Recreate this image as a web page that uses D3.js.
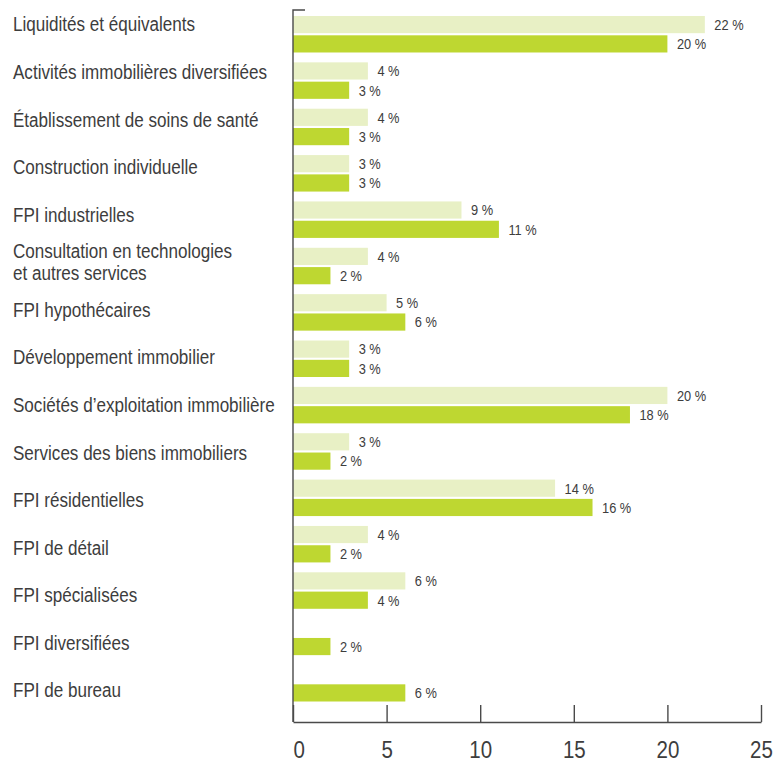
<!DOCTYPE html>
<html lang="fr">
<head>
  <meta charset="UTF-8">
  <title>Répartition sectorielle</title>
  <script src="https://d3js.org/d3.v7.min.js"></script>
  <style>
    body { margin: 0; background: #fff; }
    text {
      font-family: "Liberation Sans", Arial, sans-serif;
      fill: #3d3d3d;
    }
    .cat { font-size: 19.5px; }
    .val { font-size: 15px; }
    .tick text { font-size: 24px; }
  </style>
</head>
<body>
  <svg width="783" height="762"></svg>

  <script>
    // Data
    const categories = [
      "Liquidités et équivalents",
      "Activités immobilières diversifiées",
      "Établissement de soins de santé",
      "Construction individuelle",
      "FPI industrielles",
      "Consultation en technologies\net autres services",
      "FPI hypothécaires",
      "Développement immobilier",
      "Sociétés d’exploitation immobilière",
      "Services des biens immobiliers",
      "FPI résidentielles",
      "FPI de détail",
      "FPI spécialisées",
      "FPI diversifiées",
      "FPI de bureau"
    ];
    const seriesKeys = ["prev", "curr"];
    const prevValues = [22, 4, 4, 3, 9, 4, 5, 3, 20, 3, 14, 4, 6, null, null];
    const currValues = [20, 3, 3, 3, 11, 2, 6, 3, 18, 2, 16, 2, 4, 2, 6];
    const xTicks = [0, 5, 10, 15, 20, 25];

    const colors = { prev: "#e8f0c5", curr: "#bed731" };
    const narrow = 0.855;    // squeeze to mimic the condensed face
    const narrowCat = 0.875;

    // Layout
    const x0 = 293, x1 = 761, axisTop = 10, axisBottom = 722;

    const svg = d3.select("svg");

    const x = d3.scaleLinear().domain([0, 25]).range([x0, x1]);

    const y = d3.scaleBand()
      .domain(categories)
      .range([16, 701.5])
      .paddingInner(0.213)
      .paddingOuter(0);

    const ySub = d3.scaleBand()
      .domain(seriesKeys)
      .range([0, y.bandwidth()])
      .paddingInner(0.11);

    // labels sit on their own, slightly wider spacing
    const yLabel = d3.scalePoint()
      .domain(categories)
      .range([24, 690]);

    const rows = categories.map((c, i) => ({
      cat: c,
      prev: prevValues[i],
      curr: currValues[i]
    }));

    // Bars
    const barData = rows.flatMap(r =>
      seriesKeys.filter(k => r[k] != null).map(k => ({ cat: r.cat, key: k, value: r[k] }))
    );

    svg.append("g")
      .selectAll("rect")
      .data(barData)
      .join("rect")
      .attr("x", x(0))
      .attr("y", d => y(d.cat) + ySub(d.key))
      .attr("width", d => x(d.value) - x(0))
      .attr("height", ySub.bandwidth())
      .attr("fill", d => colors[d.key]);

    // Value labels
    svg.append("g")
      .selectAll("text")
      .data(barData)
      .join("text")
      .attr("class", "val")
      .attr("transform", d =>
        `translate(${x(d.value) + 9.5},${y(d.cat) + ySub(d.key) + ySub.bandwidth() / 2}) scale(${narrow},1)`)
      .attr("dominant-baseline", "central")
      .text(d => d.value + " %");

    // Category labels
    const catLabels = svg.append("g")
      .selectAll("text")
      .data(categories)
      .join("text")
      .attr("class", "cat")
      .attr("transform", d => `translate(13,${yLabel(d)}) scale(${narrowCat},1)`)
      .attr("dominant-baseline", "central");

    catLabels.each(function(d) {
      const lines = d.split("\n");
      const t = d3.select(this);
      lines.forEach((line, i) => {
        t.append("tspan")
          .attr("x", 0)
          .attr("dy", i === 0 ? -(lines.length - 1) * 11 : 22)
          .text(line);
      });
    });

    // Y axis line with small top tick
    svg.append("path")
      .attr("d", `M${x0 + 12},${axisTop}H${x0}V${axisBottom}`)
      .attr("fill", "none")
      .attr("stroke", "#4a4a4a")
      .attr("stroke-width", 1.4);

    // X axis
    const xAxis = svg.append("g")
      .attr("transform", `translate(0,${axisBottom})`)
      .call(d3.axisBottom(x).tickValues(xTicks).tickSizeInner(-17).tickSizeOuter(0).tickPadding(0));

    xAxis.select(".domain").attr("stroke", "#4a4a4a").attr("stroke-width", 1.4);
    xAxis.selectAll(".tick line").attr("stroke", "#4a4a4a").attr("stroke-width", 1.4);
    xAxis.selectAll(".tick text")
      .attr("y", 36)
      .attr("dy", null)
      .attr("fill", "#3d3d3d")
      .attr("transform", `scale(${narrow},1)`)
      .attr("text-anchor", d => d === 0 ? "start" : "middle");
  </script>
</body>
</html>
